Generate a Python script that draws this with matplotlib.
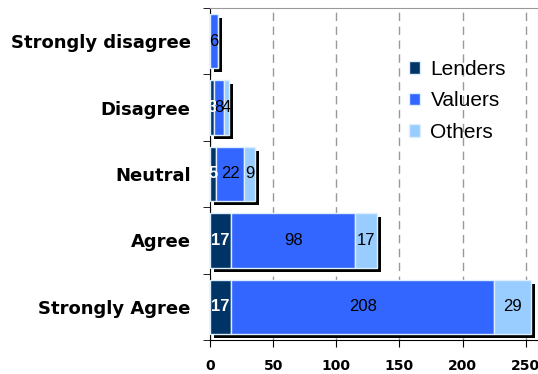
import numpy as np
import matplotlib
matplotlib.use("Agg")
import matplotlib.pyplot as plt
from matplotlib import transforms

# survey answers, listed top to bottom
categories = ["Strongly disagree", "Disagree", "Neutral", "Agree", "Strongly Agree"]
lenders = [0, 3, 5, 17, 17]
valuers = [6, 8, 22, 98, 208]
others = [0, 4, 9, 17, 29]

series = [("Lenders", lenders, "#003366", "white", "bold"),
          ("Valuers", valuers, "#3366FF", "black", "normal"),
          ("Others", others, "#99CCFF", "black", "normal")]

fig = plt.figure(figsize=(5.38, 3.74), dpi=100)
ax = fig.add_axes([210/538, 34/374, 327/538, 332/374])

y = np.arange(len(categories))
h = 0.82
totals = np.array(lenders) + np.array(valuers) + np.array(others)

# black drop shadow behind each stacked bar
shadow = transforms.offset_copy(ax.transData, fig=fig, x=4, y=-4, units="dots")
ax.barh(y, totals, height=h, color="black", transform=shadow, zorder=2)

left = np.zeros(len(categories))
for name, vals, col, tcol, tw in series:
    vals = np.array(vals)
    bars = ax.barh(y, vals, height=h, left=left, color=col,
                   edgecolor="#ddeeff", linewidth=1, label=name, zorder=3)
    for b, v in zip(bars, vals):
        if v == 0:
            continue
        ax.text(b.get_x() + b.get_width()/2, b.get_y() + b.get_height()/2, str(v),
                ha="center", va="center", color=tcol, fontsize=12, fontweight=tw,
                family="Liberation Sans", zorder=4)
    left += vals

ax.set_xlim(0, 259)
ax.set_ylim(len(categories) - 0.5, -0.5)
ax.set_xticks([0, 50, 100, 150, 200, 250])
ax.set_yticks(y)
ax.set_yticklabels(categories, fontsize=13, fontweight="bold")
ax.set_yticks(np.arange(len(categories) + 1) - 0.5, minor=True)
ax.tick_params(axis="y", which="major", length=0, pad=14)
ax.tick_params(axis="y", which="minor", length=5, direction="out")
ax.tick_params(axis="x", length=5, direction="out", pad=9)
for lab in ax.get_xticklabels():
    lab.set_fontweight("bold")
    lab.set_fontsize(10)

ax.xaxis.grid(True, linestyle=(0, (6, 4)), color="#999999", linewidth=1, zorder=0)
ax.set_axisbelow(True)
ax.spines["top"].set_color("#999999")
ax.spines["right"].set_visible(False)

ax.legend(loc="upper left", bbox_to_anchor=(0.55, 0.90), frameon=False,
          prop={"family": "Liberation Sans", "size": 15},
          handlelength=0.55, handleheight=0.55, handletextpad=0.5, labelspacing=0.6)

fig.savefig("out.png", dpi=100)
